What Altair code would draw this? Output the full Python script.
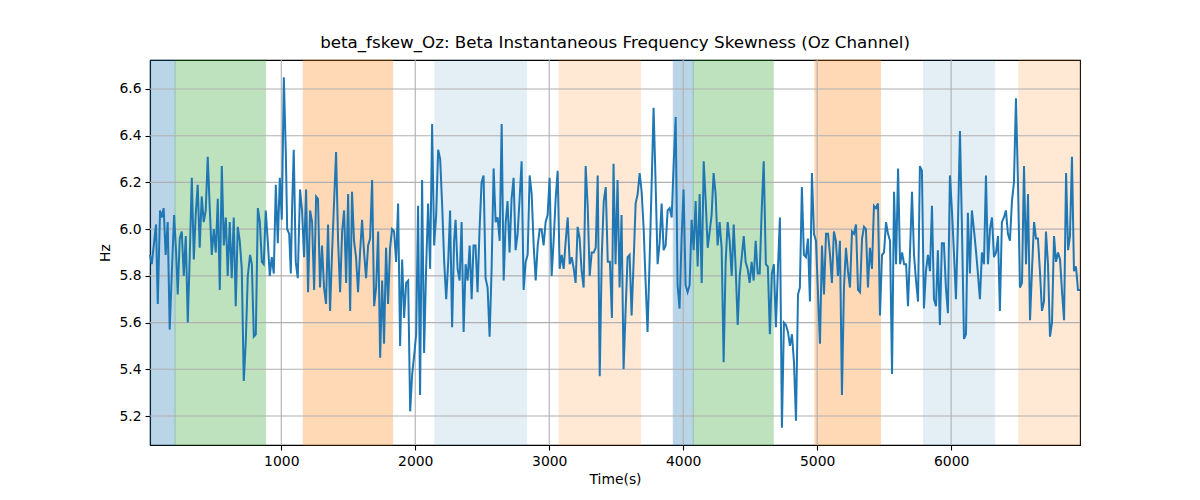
import altair as alt
import pandas as pd

# ---- line data: (time s, Hz) pairs, by section ----
seg1 = [(20,5.89),(33,5.85),(65,6.02),(78,5.68),(95,6.08),(107,6.05),(122,6.09),(137,5.89),(152,6.03),(167,5.57),
        (182,5.80),(200,6.06),(215,5.90),(227,5.72),(242,5.96),(257,5.99),(272,5.80),(287,5.97),(302,5.60),(317,5.89),
        (332,6.22),(347,5.87),(361,6.06),(376,6.19),(391,5.92),(406,6.14),(421,6.03),(436,6.08),(451,6.31),(466,6.09),
        (481,5.89),(496,6.00),(511,5.90),(526,6.13),(541,5.74),(556,6.27),(571,5.93),(586,6.05),(600,5.80),(615,6.03),
        (630,5.79),(645,6.05),(660,5.67),(675,6.01),(690,5.95),(705,5.83),(720,5.35),(735,5.52),(750,5.80),(767,5.89),
        (780,5.85),(795,5.54),(810,5.55),(825,6.09),(840,6.03),(855,5.86),(869,5.85),(884,6.08),(899,5.95),(914,5.80),
        (929,5.88),(944,5.81),(959,6.19),(974,5.94),(989,6.22),(1004,6.04),(1019,6.65),(1034,6.32),(1044,6.00),(1059,5.98),
        (1071,5.81),(1081,6.10),(1093,6.34),(1108,5.86),(1123,5.79)]
seg2 = [(1140,6.17),(1155,6.08),(1170,5.88),(1185,6.17),(1200,5.73),(1215,6.08),(1230,6.03),(1245,5.74),(1260,6.14),(1274,6.13),
        (1289,5.75),(1304,5.93),(1319,5.75),(1334,5.68),(1349,6.02),(1364,5.65),(1379,5.90),(1409,6.33),(1424,5.95),(1439,5.73),
        (1454,5.99),(1469,6.08),(1484,5.77),(1499,6.15),(1514,5.65),(1528,6.16),(1543,5.95),(1558,5.88),(1573,5.73),(1588,5.90),
        (1603,6.04),(1618,5.90),(1633,5.79),(1648,5.93),(1663,5.96),(1678,6.21),(1693,5.67),(1708,5.75),(1723,5.99),(1738,5.45),
        (1753,5.78),(1767,5.51),(1782,5.92),(1797,5.68),(1812,5.92),(1827,6.00),(1842,5.99),(1857,5.86),(1872,6.11),(1887,5.50),
        (1902,5.87),(1917,5.62),(1932,5.77),(1947,5.78),(1962,5.22),(1977,5.38),(1992,5.46),(2007,5.55),(2021,6.10),(2036,5.29),
        (2051,6.21),(2066,5.47),(2081,5.83),(2096,6.11),(2111,5.83),(2126,6.45),(2141,5.93),(2156,6.06),(2171,6.34),(2186,6.30),
        (2201,6.10),(2216,5.86),(2231,5.70),(2246,5.86),(2260,6.08),(2275,5.58),(2290,5.95)]
seg3 = [(2301,6.04),(2316,5.83),(2331,5.78),(2346,6.03),(2361,5.56),(2376,5.85),(2391,5.78),(2406,5.93),(2421,5.70),(2435,5.93),
        (2450,5.93),(2465,5.73),(2480,6.00),(2495,6.20),(2510,6.23),(2525,5.79),(2540,5.75),(2555,5.54),(2570,5.83),(2585,6.26),
        (2600,6.03),(2615,6.05),(2630,5.95),(2645,6.45),(2660,5.78),(2675,6.03),(2689,6.12),(2704,5.90),(2719,6.13),(2734,6.22),
        (2749,5.91),(2764,5.98),(2779,6.13),(2794,6.29),(2809,5.74),(2824,5.86),(2839,5.89),(2854,6.23),(2869,6.15),(2884,5.93),
        (2899,5.78),(2914,5.93),(2929,6.00),(2943,6.00),(2958,5.93),(2973,6.03),(2988,6.06),(3003,6.22),(3018,5.80),(3033,5.95),
        (3048,6.13),(3063,6.25),(3078,5.83),(3093,5.89),(3108,5.83),(3123,5.95),(3138,6.05),(3153,5.85),(3168,5.88),(3183,5.83),
        (3197,5.77),(3212,6.01),(3227,5.96),(3242,5.82),(3257,5.75),(3272,6.27),(3287,6.10),(3302,5.80),(3317,5.90),(3332,5.90),
        (3347,5.92),(3362,6.23),(3377,5.37),(3392,5.88),(3407,6.12),(3422,6.18),(3437,5.86)]
seg4 = [(3453,5.86),(3468,5.62),(3480,6.28),(3495,5.85),(3510,6.21),(3525,5.75),(3540,6.06),(3555,5.40),(3570,5.65),(3585,5.88),
        (3600,5.89),(3615,5.63),(3630,5.86),(3645,6.11),(3660,6.15),(3675,6.24),(3690,6.16),(3705,6.00),(3719,5.78),(3734,5.56),
        (3749,5.86),(3764,6.18),(3779,6.52),(3794,6.20),(3809,5.85),(3824,5.94),(3839,6.11),(3854,5.91),(3869,5.93),(3884,6.08),
        (3899,6.09),(3914,6.05),(3929,6.28),(3944,6.48),(3958,5.76),(3973,5.66),(3988,5.96),(4003,6.17),(4018,5.76),(4033,5.73),
        (4048,5.76),(4063,6.04),(4078,5.91),(4093,6.12),(4108,5.84),(4123,6.15),(4138,5.77),(4153,6.29),(4168,6.12),(4183,5.92),
        (4198,5.99),(4212,6.06),(4227,6.24),(4242,6.15),(4257,5.93),(4272,6.03),(4287,5.92),(4302,5.43),(4317,5.86),(4332,6.03),
        (4347,5.95),(4362,5.80),(4377,6.02),(4392,5.83),(4407,5.59),(4422,5.80),(4437,5.88),(4452,5.97),(4466,5.86),(4481,5.83),
        (4496,5.77),(4511,5.86),(4526,5.78),(4541,5.95),(4556,5.81),(4571,5.81),(4586,6.08),(4601,6.29)]
seg5 = [(4617,5.85),(4632,5.84),(4647,5.55),(4662,5.81),(4677,5.85),(4692,5.58),(4707,5.83),(4722,6.05),(4737,5.15),(4752,5.60),
        (4767,5.59),(4782,5.56),(4797,5.50),(4812,5.55),(4827,5.43),(4842,5.18),(4857,5.72),(4871,5.75),(4886,6.18),(4901,5.89),
        (4916,5.88),(4931,5.96),(4946,5.69),(4961,6.24),(4976,5.98),(4991,5.95),(5021,5.51),(5036,5.93),(5051,5.72),(5066,5.98),
        (5081,5.98),(5096,5.89),(5110,5.77),(5125,5.99),(5140,5.95),(5155,5.80),(5170,5.95),(5185,5.29),(5200,5.75),(5215,5.92),
        (5230,5.82),(5245,5.75),(5260,5.99),(5275,5.98),(5290,6.02),(5305,5.74),(5320,5.73),(5335,5.96),(5350,6.01),(5364,6.00),
        (5379,5.75),(5394,5.92),(5409,5.83),(5424,6.10),(5439,6.09),(5454,6.11),(5469,5.63),(5484,5.89),(5499,5.90),(5514,6.03),
        (5529,5.98),(5544,5.95),(5559,5.38),(5574,6.16),(5589,5.85),(5604,6.26),(5619,5.85),(5634,5.90),(5649,5.85),(5664,5.85),
        (5678,5.67),(5693,5.90),(5708,6.16),(5723,5.89),(5738,5.78),(5753,5.69)]
seg6 = [(5767,6.27),(5782,6.25),(5797,5.66),(5812,5.82),(5827,5.89),(5842,5.82),(5857,6.10),(5872,5.70),(5887,5.67),(5901,5.91),
        (5916,5.59),(5931,5.94),(5946,5.94),(5961,5.75),(5976,5.64),(5991,6.23),(6006,6.08),(6021,5.90),(6036,5.70),(6051,6.02),
        (6066,6.42),(6081,6.00),(6096,5.53),(6111,5.55),(6125,6.07),(6140,5.81),(6155,6.08),(6170,6.00),(6185,5.91),(6200,5.81),
        (6215,5.70),(6230,5.90),(6245,5.85),(6260,6.23),(6275,5.85),(6290,6.00),(6305,6.05),(6320,5.88),(6335,5.90),(6350,5.97),
        (6364,5.65),(6379,6.03),(6394,6.05),(6409,6.08),(6424,5.98),(6439,5.95),(6454,6.12),(6469,6.20),(6484,6.56),(6499,6.20),
        (6514,5.75),(6529,5.77),(6544,6.27),(6559,5.85),(6574,6.15),(6589,5.61),(6604,5.83),(6619,6.03),(6634,5.96),(6648,5.96),
        (6663,5.82),(6678,5.65),(6693,5.69),(6708,5.99),(6723,5.85),(6738,5.54),(6753,5.60),(6768,5.97),(6783,5.86),(6798,5.90),
        (6813,5.87),(6828,5.73),(6843,5.61),(6858,6.24),(6873,5.91),(6887,5.97),(6902,6.31),(6917,5.82),(6932,5.84),(6947,5.74),
        (6962,5.74)]

# ---- shaded spans ----
span_start = [20, 207, 1164, 2147, 3073, 3926, 4075, 4983, 5794, 6505]
span_end = [207, 883, 1831, 2831, 3682, 4075, 4672, 5473, 6324, 6962]
span_kind = ["blue", "green", "orange", "lightblue", "lightorange",
             "blue", "green", "orange", "lightblue", "lightorange"]
kinds = ["blue", "green", "orange", "lightblue", "lightorange"]
kind_colors = ["#1f77b4", "#2ca02c", "#ff7f0e", "#1f77b4", "#ff7f0e"]
kind_alpha = [0.3, 0.3, 0.3, 0.12, 0.17]

x_ticks = [1000, 2000, 3000, 4000, 5000, 6000]
y_ticks = [5.2, 5.4, 5.6, 5.8, 6.0, 6.2, 6.4, 6.6]
x_domain = [20, 6962]
y_domain = [5.076, 6.724]

title_text = "beta_fskew_Oz: Beta Instantaneous Frequency Skewness (Oz Channel)"

rows = [{"t": t, "hz": v} for seg in (seg1, seg2, seg3, seg4, seg5, seg6) for t, v in seg]
line_df = pd.DataFrame(rows)
color_of = dict(zip(kinds, kind_colors))
alpha_of = dict(zip(kinds, kind_alpha))
span_df = pd.DataFrame({
    "start": span_start,
    "end": span_end,
    "kind": span_kind,
    "col": [color_of[k] for k in span_kind],
    "alpha": [alpha_of[k] for k in span_kind],
})

FONT = "DejaVu Sans"
xscale = alt.Scale(domain=x_domain, nice=False, zero=False)
yscale = alt.Scale(domain=y_domain, nice=False, zero=False)
xaxis = alt.Axis(values=x_ticks, format="d", title="Time(s)")
yaxis = alt.Axis(values=y_ticks, format=".1f", title="Hz")

spans = alt.Chart(span_df).mark_rect(strokeWidth=1).encode(
    x=alt.X("start:Q", scale=xscale, axis=xaxis),
    x2="end:Q",
    fill=alt.Fill("col:N", scale=None),
    stroke=alt.Stroke("col:N", scale=None),
    opacity=alt.Opacity("alpha:Q", scale=None),
)

vgrid = alt.Chart(pd.DataFrame({"x": x_ticks})).mark_rule(color="#b0b0b0", strokeWidth=1.1).encode(
    x=alt.X("x:Q", scale=xscale, axis=xaxis)
)
hgrid = alt.Chart(pd.DataFrame({"y": y_ticks})).mark_rule(color="#b0b0b0", strokeWidth=1.1).encode(
    y=alt.Y("y:Q", scale=yscale, axis=yaxis)
)

line = alt.Chart(line_df).mark_line(color="#1f77b4", strokeWidth=2).encode(
    x=alt.X("t:Q", scale=xscale, axis=xaxis),
    y=alt.Y("hz:Q", scale=yscale, axis=yaxis),
)

chart = alt.layer(spans, vgrid, hgrid, line).properties(
    width=930,
    height=385,
    title=alt.TitleParams(title_text, fontSize=16.7, font=FONT, fontWeight="normal",
                          anchor="middle", offset=8, color="black"),
    autosize=alt.AutoSizeParams(type="none"),
    padding={"left": 142, "top": 52, "right": 100, "bottom": 50},
).configure_view(
    stroke="black", strokeWidth=1.1
).configure_axis(
    grid=False,
    domainColor="black", domainWidth=1.1,
    tickColor="black", tickSize=5, tickWidth=1.1,
    labelColor="black", labelFont=FONT, labelFontSize=13.9, labelPadding=4,
    titleColor="black", titleFont=FONT, titleFontSize=13.9, titleFontWeight="normal",
).configure_axisX(titlePadding=5).configure_axisY(titlePadding=6)

chart.save("out.html", embed_options={"renderer": "svg", "actions": False})
